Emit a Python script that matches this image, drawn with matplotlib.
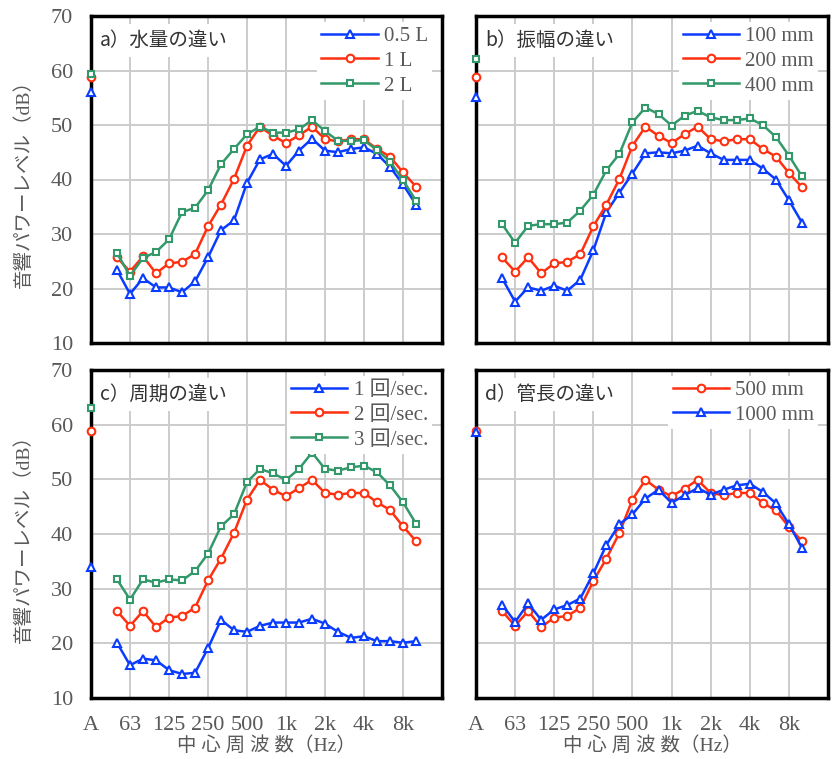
import matplotlib
matplotlib.use('Agg')
import matplotlib.pyplot as plt
import numpy as np

plt.rcParams['font.family'] = ['Liberation Serif', 'Noto Sans CJK JP']

# 1/3 octave bands 50 Hz - 10 kHz, plus overall A value
bands = ['50', '63', '80', '100', '125', '160', '200', '250', '315', '400', '500', '630',
         '800', '1k', '1.25k', '1.6k', '2k', '2.5k', '3.15k', '4k', '5k', '6.3k', '8k', '10k']
tick_labels = ['A', '63', '125', '250', '500', '1k', '2k', '4k', '8k']

# a) water amount
a_05L_A = 56.0
a_05L = [23.4, 19.0, 21.9, 20.2, 20.2, 19.3, 21.3, 25.7, 30.7, 32.5, 39.4, 43.7,
         44.7, 42.5, 45.3, 47.5, 45.3, 45.0, 45.6, 45.9, 44.7, 42.3, 39.1, 35.4]
a_1L_A = 58.8
a_1L = [25.7, 23.1, 25.9, 22.8, 24.6, 24.9, 26.3, 31.4, 35.4, 40.1, 46.2, 49.7,
        48.0, 46.7, 48.1, 49.7, 47.4, 47.0, 47.4, 47.4, 45.6, 44.2, 41.3, 38.7]
a_2L_A = 59.4
a_2L = [26.5, 22.3, 25.6, 26.7, 29.0, 34.0, 34.8, 38.0, 42.8, 45.6, 48.3, 49.7,
        48.6, 48.6, 49.2, 50.9, 48.9, 47.1, 47.1, 47.2, 45.4, 43.3, 39.9, 36.1]

# b) amplitude
b_100_A = 55.2
b_100 = [21.9, 17.6, 20.2, 19.6, 20.5, 19.6, 21.6, 27.0, 34.0, 37.6, 41.1, 44.8,
         45.0, 44.8, 45.3, 46.2, 44.8, 43.6, 43.6, 43.6, 42.0, 40.0, 36.2, 32.1]
b_200_A = 58.8
b_200 = [25.7, 23.1, 25.7, 22.8, 24.6, 24.9, 26.3, 31.4, 35.4, 40.1, 46.2, 49.7,
         48.0, 46.7, 48.3, 49.7, 47.4, 47.0, 47.4, 47.4, 45.6, 44.2, 41.2, 38.6]
b_400_A = 62.2
b_400 = [31.8, 28.4, 31.5, 31.8, 31.8, 32.1, 34.3, 37.2, 41.7, 44.7, 50.5, 53.2,
         52.0, 49.9, 51.7, 52.6, 51.4, 50.9, 50.9, 51.2, 50.0, 47.8, 44.4, 40.6]

# c) period
c_1_A = 34.0
c_1 = [20.1, 16.0, 17.2, 16.9, 15.1, 14.4, 14.6, 19.1, 24.3, 22.4, 22.1, 23.2,
       23.8, 23.8, 23.8, 24.5, 23.6, 22.1, 21.0, 21.3, 20.4, 20.4, 20.1, 20.4]
c_2_A = 58.9
c_2 = [25.9, 23.2, 25.9, 23.0, 24.7, 25.0, 26.5, 31.5, 35.5, 40.2, 46.3, 49.9,
       48.1, 46.9, 48.4, 49.9, 47.5, 47.2, 47.5, 47.5, 45.8, 44.4, 41.4, 38.7]
c_3_A = 63.0
c_3 = [31.7, 28.0, 31.7, 31.1, 31.7, 31.5, 33.2, 36.4, 41.4, 43.6, 49.5, 51.9,
       51.1, 49.9, 51.9, 54.9, 51.9, 51.6, 52.2, 52.5, 51.3, 48.9, 45.8, 41.9]

# d) pipe length
d_500_A = 58.9
d_500 = [25.9, 23.2, 25.9, 23.0, 24.7, 25.0, 26.5, 31.4, 35.5, 40.2, 46.3, 49.9,
         48.1, 46.9, 48.3, 49.9, 47.5, 47.1, 47.5, 47.5, 45.7, 44.3, 41.3, 38.7]
d_1000_A = 58.7
d_1000 = [27.1, 23.9, 27.3, 24.3, 26.2, 27.0, 28.2, 32.8, 38.0, 41.8, 43.6, 46.5,
          48.1, 45.7, 47.1, 48.4, 47.2, 48.1, 48.9, 49.2, 47.7, 45.6, 41.8, 37.5]

BLUE = '#0a3cff'
RED = '#ff3010'
GREEN = '#33996a'
GRAY = '#595959'

x = np.arange(2, 2 + len(bands))
tick_pos = [0, 3, 6, 9, 12, 15, 18, 21, 24]

fig = plt.figure(figsize=(8.32, 7.59), dpi=100)
W, H = 832, 759
boxes = [(91, 16, 442, 343), (476, 16, 828, 343), (91, 370, 442, 698), (476, 370, 828, 698)]
axes = []
for (l, t, r, b) in boxes:
    axes.append(fig.add_axes([l / W, 1 - b / H, (r - l) / W, (b - t) / H]))

style = {'tri': dict(marker='^', ms=5.5), 'cir': dict(marker='o', ms=5.5), 'sq': dict(marker='s', ms=5)}

panels = [
    ('a）水量の違い', [('0.5 L', a_05L_A, a_05L, BLUE, 'tri'), ('1 L', a_1L_A, a_1L, RED, 'cir'),
                   ('2 L', a_2L_A, a_2L, GREEN, 'sq')]),
    ('b）振幅の違い', [('100 mm', b_100_A, b_100, BLUE, 'tri'), ('200 mm', b_200_A, b_200, RED, 'cir'),
                   ('400 mm', b_400_A, b_400, GREEN, 'sq')]),
    ('c）周期の違い', [('1 回/sec.', c_1_A, c_1, BLUE, 'tri'), ('2 回/sec.', c_2_A, c_2, RED, 'cir'),
                   ('3 回/sec.', c_3_A, c_3, GREEN, 'sq')]),
    ('d）管長の違い', [('500 mm', d_500_A, d_500, RED, 'cir'), ('1000 mm', d_1000_A, d_1000, BLUE, 'tri')]),
]

for i, (ax, (title, series)) in enumerate(zip(axes, panels)):
    for label, va, vals, col, mk in series:
        kw = style[mk]
        ax.plot(x, vals, color=col, lw=1.8, mfc='white', mec=col, mew=1.5, label=label, **kw)
        # overall A-weighted value sits on the left frame, drawn above the title box
        ax.plot([0], [va], color=col, lw=0, mfc='white', mec=col, mew=1.5, clip_on=False,
                zorder=6, **kw)
    ax.set_xlim(0, 27)
    ax.set_ylim(10, 70)
    ax.set_xticks(tick_pos)
    ax.set_yticks(np.arange(10, 71, 10))
    ax.grid(True, color='#cccccc', lw=1.4)
    ax.set_axisbelow(True)
    for s in ax.spines.values():
        s.set_linewidth(2.5)
        s.set_color('black')
    ax.tick_params(length=0, labelsize=16, labelcolor=GRAY, pad=13)
    if i in (0, 2):
        ax.set_ylabel('音響パワーレベル（dB）', fontsize=14, color=GRAY, labelpad=13)
    else:
        ax.set_yticklabels([])
    if i in (2, 3):
        ax.set_xticklabels(tick_labels)
        ax.set_xlabel('中 心 周 波 数（Hz）', fontsize=14, color=GRAY, labelpad=1)
    else:
        ax.set_xticklabels([])
    ax.text(0.025, 0.925, title, transform=ax.transAxes, fontsize=14, color='#333333',
            family=['Noto Sans CJK JP'], va='center', ha='left',
            bbox=dict(fc='white', ec='none', pad=4))
    leg = ax.legend(loc='upper right', bbox_to_anchor=(0.99, 1.0), fontsize=15, frameon=True,
                    facecolor='white', edgecolor='none', framealpha=1, handlelength=2.7,
                    handletextpad=0.3, labelspacing=0.25, borderaxespad=0.3, borderpad=0.2)
    for t in leg.get_texts():
        t.set_color(GRAY)
    leg.get_frame().set_linewidth(0)

fig.savefig('out.png', dpi=100)
